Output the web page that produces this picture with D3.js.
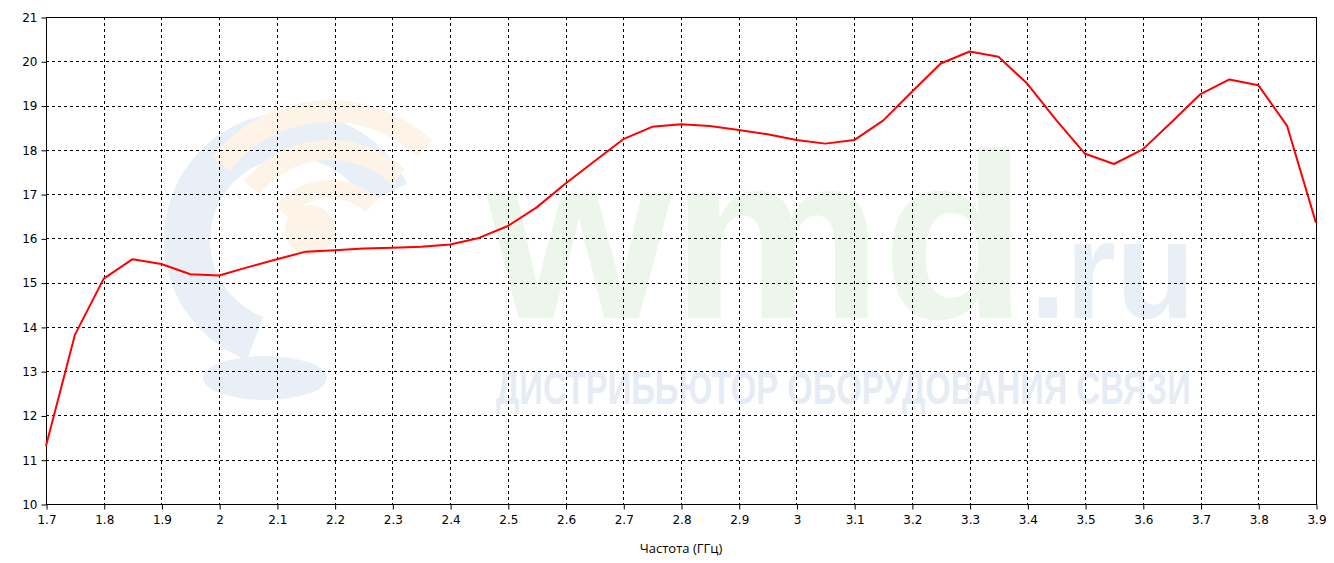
<!DOCTYPE html>
<html lang="ru">
<head>
    <meta charset="UTF-8">
    <title>Частота</title>
    <style>
        body { margin: 0; background: #fff; }
        svg { display: block; }
        .tick text { font-family: "DejaVu Sans", Verdana, sans-serif; font-size: 12px; fill: #000; }
    </style>
    <script src="https://d3js.org/d3.v7.min.js"></script>
</head>
<body>
    <div id="svg"></div>
    <script>
        const { boxWidth, boxHeight } = { boxWidth: 1334, boxHeight: 563 }
        const { plotLeft, plotRight, plotTop, plotBottom } = { plotLeft: 46, plotRight: 1316, plotTop: 17, plotBottom: 504 }

        // частота, ГГц
        const freq = [1.70, 1.75, 1.80, 1.85, 1.90, 1.95, 2.00, 2.05, 2.10, 2.15, 2.20, 2.25, 2.30, 2.35, 2.40, 2.45,
            2.50, 2.55, 2.60, 2.65, 2.70, 2.75, 2.80, 2.85, 2.90, 2.95, 3.00, 3.05, 3.10, 3.15, 3.20, 3.25,
            3.30, 3.35, 3.40, 3.45, 3.50, 3.55, 3.60, 3.65, 3.70, 3.75, 3.80, 3.85, 3.90]
        const gain = [11.31, 13.82, 15.09, 15.53, 15.42, 15.19, 15.16, 15.35, 15.53, 15.70, 15.73, 15.77, 15.79, 15.81, 15.86, 16.01,
            16.28, 16.70, 17.24, 17.74, 18.24, 18.52, 18.58, 18.54, 18.45, 18.35, 18.22, 18.14, 18.22, 18.66, 19.31, 19.95,
            20.22, 20.10, 19.49, 18.67, 17.91, 17.68, 18.01, 18.63, 19.26, 19.59, 19.46, 18.54, 16.35]

        const xTicks = [1.7, 1.8, 1.9, 2.0, 2.1, 2.2, 2.3, 2.4, 2.5, 2.6, 2.7, 2.8, 2.9, 3.0, 3.1, 3.2, 3.3, 3.4, 3.5, 3.6, 3.7, 3.8, 3.9]
        const xTickLabels = ["1.7", "1.8", "1.9", "2", "2.1", "2.2", "2.3", "2.4", "2.5", "2.6", "2.7", "2.8", "2.9", "3", "3.1", "3.2", "3.3", "3.4", "3.5", "3.6", "3.7", "3.8", "3.9"]
        const yTicks = [10, 11, 12, 13, 14, 15, 16, 17, 18, 19, 20, 21]
        const xAxisLabel = "Частота (ГГц)"

        const svg = d3.select("#svg").append("svg").attr("width", boxWidth).attr("height", boxHeight)

        const xScale = d3.scaleLinear().domain([1.7, 3.9]).range([plotLeft, plotRight])
        const yScale = d3.scaleLinear().domain([10, 21]).range([plotBottom, plotTop])

        // водяной знак
        const wm = svg.append("g").attr("class", "watermark")
        wm.append("path")
            .attr("d", d3.arc()({ innerRadius: 82, outerRadius: 128, startAngle: 3.5, endAngle: 7.4 }))
            .attr("transform", "translate(292,240)")
            .attr("fill", "#e9eff7")
        ;[[150, 128], [110, 90], [70, 52]].forEach(([ro, ri]) => {
            wm.append("path")
                .attr("d", d3.arc()({ innerRadius: ri, outerRadius: ro, startAngle: -0.9, endAngle: 0.75 }))
                .attr("transform", "translate(330,250)")
                .attr("fill", "#fdf3e6")
        })
        wm.append("circle").attr("cx", 310).attr("cy", 230).attr("r", 25).attr("fill", "#fdf3e6")
        wm.append("ellipse").attr("cx", 265).attr("cy", 378).attr("rx", 62).attr("ry", 22).attr("fill", "#e9eff7")

        // растянуть/сжать текст до нужной ширины
        function fitText(x, y, width, size, fill, str) {
            const t = wm.append("text")
                .attr("font-family", "Arial, 'Liberation Sans', sans-serif").attr("font-weight", "bold").attr("font-size", size)
                .attr("fill", fill).text(str)
            const w = t.node().getComputedTextLength()
            t.attr("transform", `translate(${x},${y}) scale(${width / w},1)`)
        }
        fitText(487, 318, 540, 235, "#edf6ea", "wmd")
        fitText(1030, 318, 165, 140, "#e9eff7", ".ru")
        fitText(496, 404, 695, 46, "#e6ecf5", "ДИСТРИБЬЮТОР ОБОРУДОВАНИЯ СВЯЗИ")

        // сетка
        const grid = svg.append("g").attr("class", "grid")
            .attr("stroke", "#000").attr("stroke-width", 1).attr("stroke-dasharray", "3,3")
        grid.selectAll(".vline").data(xTicks.slice(1, -1)).enter().append("line")
            .attr("x1", d => Math.round(xScale(d)) + 0.5).attr("x2", d => Math.round(xScale(d)) + 0.5)
            .attr("y1", plotTop).attr("y2", plotBottom)
        grid.selectAll(".hline").data(yTicks.slice(1, -1)).enter().append("line")
            .attr("y1", d => Math.round(yScale(d)) + 0.5).attr("y2", d => Math.round(yScale(d)) + 0.5)
            .attr("x1", plotLeft).attr("x2", plotRight)

        // рамка
        svg.append("rect")
            .attr("x", plotLeft + 0.5).attr("y", plotTop + 0.5)
            .attr("width", plotRight - plotLeft).attr("height", plotBottom - plotTop)
            .attr("fill", "none").attr("stroke", "#000").attr("stroke-width", 1)

        const xAxis = d3.axisBottom(xScale).tickValues(xTicks).tickFormat((d, i) => xTickLabels[i]).tickSize(5).tickPadding(6)
        const xAxisGroup = svg.append("g").attr("transform", `translate(0.5, ${plotBottom + 0.5})`).call(xAxis)
        xAxisGroup.select(".domain").remove()
        xAxisGroup.selectAll(".tick line").attr("stroke", "#000")

        const yAxis = d3.axisLeft(yScale).tickValues(yTicks).tickSize(5).tickPadding(4)
        const yAxisGroup = svg.append("g").attr("transform", `translate(${plotLeft + 0.5}, 0.5)`).call(yAxis)
        yAxisGroup.select(".domain").remove()
        yAxisGroup.selectAll(".tick line").attr("stroke", "#000")

        svg.append("text")
            .attr("x", (plotLeft + plotRight) / 2).attr("y", 553)
            .attr("text-anchor", "middle")
            .attr("font-family", "'Open Sans', 'Noto Sans', sans-serif").attr("font-size", 13)
            .attr("fill", "#000")
            .text(xAxisLabel)

        const data = freq.map((f, i) => ({ f, g: gain[i] }))
        const line = d3.line().x(d => xScale(d.f)).y(d => yScale(d.g))
        svg.append("path").datum(data)
            .attr("d", line)
            .attr("fill", "none").attr("stroke", "#ff0000").attr("stroke-width", 2)
            .attr("stroke-linejoin", "round")
    </script>
</body>
</html>
